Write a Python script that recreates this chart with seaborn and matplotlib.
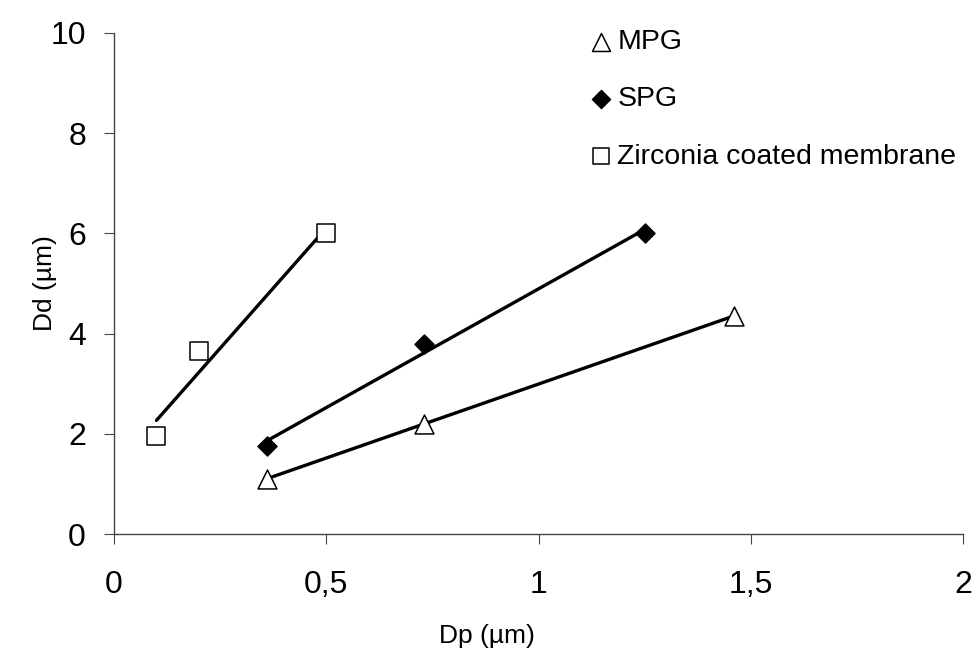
import matplotlib
matplotlib.use("Agg")
import matplotlib.pyplot as plt
import seaborn as sns
import pandas as pd

# Data
mpg_x = [0.36, 0.73, 1.46]
mpg_y = [1.1, 2.2, 4.35]
spg_x = [0.36, 0.73, 1.25]
spg_y = [1.75, 3.8, 6.0]
zr_x = [0.1, 0.2, 0.5]
zr_y = [1.95, 3.65, 6.0]

series_names = ["MPG", "SPG", "Zirconia coated membrane"]
x_ticks = [0, 0.5, 1, 1.5, 2]
x_tick_labels = ["0", "0,5", "1", "1,5", "2"]
y_ticks = [0, 2, 4, 6, 8, 10]

sns.set_theme(style="white")
plt.rcParams['font.family'] = ['Liberation Sans', 'DejaVu Sans']
plt.rcParams['text.color'] = 'black'
plt.rcParams['axes.labelcolor'] = 'black'
plt.rcParams['xtick.color'] = 'black'
plt.rcParams['ytick.color'] = 'black'

W, H = 973, 653
fig = plt.figure(figsize=(W / 100, H / 100), dpi=100)
L, R, T, B = 114, 963, 33, 534
ax = fig.add_axes([L / W, 1 - B / H, (R - L) / W, (B - T) / H])

styles = [
    dict(marker="^", s=185, facecolor="white", edgecolor="black", linewidth=1.1),
    dict(marker="D", s=95, facecolor="black", edgecolor="black", linewidth=1.0),
    dict(marker="s", s=150, facecolor="white", edgecolor="black", linewidth=1.1),
]
data = [(mpg_x, mpg_y), (spg_x, spg_y), (zr_x, zr_y)]

for (xs, ys), name, st in zip(data, series_names, styles):
    df = pd.DataFrame({"x": xs, "y": ys})
    sns.regplot(data=df, x="x", y="y", ax=ax, ci=None, scatter=False, truncate=True,
                line_kws=dict(color="black", linewidth=2.4, zorder=2))
    sns.scatterplot(data=df, x="x", y="y", ax=ax, marker=st["marker"], s=st["s"],
                    color=st["facecolor"], edgecolor=st["edgecolor"],
                    linewidth=st["linewidth"], label=name, zorder=3)

ax.set_xlim(0, 2)
ax.set_ylim(0, 10)
ax.set_xticks(x_ticks)
ax.set_xticklabels(x_tick_labels)
ax.set_yticks(y_ticks)
ax.tick_params(axis="both", which="major", labelsize=23, direction="out",
               length=7.2, width=0.8, color="#444444", bottom=True, left=True)
ax.tick_params(axis="x", pad=19)
ax.tick_params(axis="y", pad=13)
for side in ["top", "right"]:
    ax.spines[side].set_visible(False)
for side in ["left", "bottom"]:
    ax.spines[side].set_color("#444444")
    ax.spines[side].set_linewidth(1.0)

ax.set_xlabel("Dp (µm)", fontsize=19)
ax.set_ylabel("Dd (µm)", fontsize=19)
ax.xaxis.set_label_coords(0.5, 1 - 624 / H, transform=fig.transFigure)
ax.yaxis.set_label_coords(57 / W, 0.5)
ax.yaxis.label.set_transform(
    matplotlib.transforms.blended_transform_factory(fig.transFigure, ax.transAxes))
ax.yaxis.label.set_position((57 / W, 0.5))

leg = ax.legend(loc="upper left", bbox_to_anchor=(587 / W, 1 - 29 / H),
                bbox_transform=fig.transFigure, frameon=False,
                fontsize=20.5, markerscale=0.95, handletextpad=0.07, handlelength=1.0,
                labelspacing=1.1, borderaxespad=0, borderpad=0)

fig.savefig("out.png", dpi=100, facecolor="white")
